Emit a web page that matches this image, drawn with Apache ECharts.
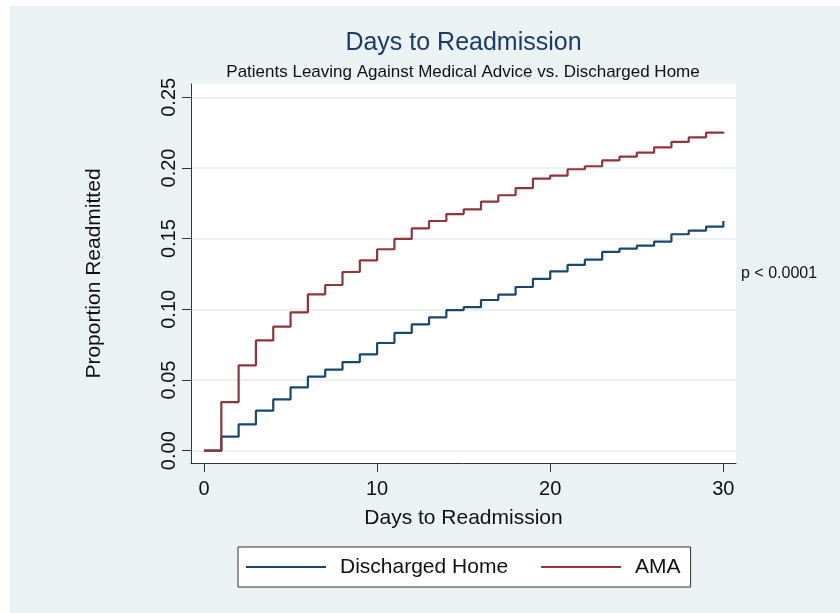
<!DOCTYPE html>
<html>
<head>
<meta charset="utf-8">
<script src="https://cdn.jsdelivr.net/npm/echarts@6/dist/echarts.min.js"></script>
<style>html,body{margin:0;padding:0;background:#fff}#c{width:840px;height:613px}</style>
</head>
<body>
<div id="c"></div>
<script>
const days = [0,1,2,3,4,5,6,7,8,9,10,11,12,13,14,15,16,17,18,19,20,21,22,23,24,25,26,27,28,29,30];
const dischargedHome = [0,0.0099,0.0186,0.0283,0.0363,0.0448,0.0524,0.0573,0.0627,0.0682,0.0762,0.0833,0.0894,0.0943,0.0995,0.1015,0.1066,0.1104,0.1158,0.1215,0.1269,0.1314,0.1351,0.1406,0.1429,0.1450,0.1479,0.1531,0.1557,0.1585,0.1625];
const ama = [0,0.0344,0.0604,0.0780,0.0877,0.0979,0.1106,0.1172,0.1264,0.1347,0.1425,0.1498,0.1573,0.1625,0.1674,0.1707,0.1762,0.1807,0.1858,0.1925,0.1946,0.1991,0.2012,0.2054,0.2080,0.2108,0.2146,0.2184,0.2217,0.2250,0.2257];
const xTicks = [0,10,20,30];
const yTicks = [0,0.05,0.10,0.15,0.20,0.25];
const seriesNames = ['Discharged Home','AMA'];

const FONT = '"Liberation Sans", Arial, Helvetica, sans-serif';
const chart = echarts.init(document.getElementById('c'), null, {renderer:'canvas'});
chart.setOption({
  animation:false,
  textStyle:{fontFamily:FONT},
  graphic:[
    {type:'rect', z:-10, shape:{x:10,y:6,width:840,height:613}, style:{fill:'#EAF2F3'}},
    {type:'text', x:463.5, y:43, style:{text:'Days to Readmission', font:'25px '+FONT, fill:'#1E3A68', textAlign:'center', textVerticalAlign:'middle'}},
    {type:'text', x:463, y:72, style:{text:'Patients Leaving Against Medical Advice vs. Discharged Home', font:'17px '+FONT, fill:'#111', textAlign:'center', textVerticalAlign:'middle'}},
    {type:'text', x:741, y:274, style:{text:'p < 0.0001', font:'16px '+FONT, fill:'#111', textAlign:'left', textVerticalAlign:'middle'}}
  ],
  grid:{left:191, right:104, top:84, bottom:150, show:true, backgroundColor:'#fff', borderWidth:0},
  legend:{
    data:seriesNames, left:238, top:547, orient:'horizontal',
    backgroundColor:'#fff', borderColor:'#333', borderWidth:1,
    icon:'rect', itemWidth:80, itemHeight:2, itemGap:33,
    padding:[8,10,8,8],
    textStyle:{fontSize:21, color:'#111', padding:[0,0,0,9], lineHeight:24}
  },
  xAxis:{
    type:'value', min:-0.751, max:30.73,
    name:'Days to Readmission', nameLocation:'middle', nameGap:45,
    nameTextStyle:{fontSize:21, color:'#111'},
    axisLine:{show:true, onZero:false, lineStyle:{color:'#333', width:1}},
    axisTick:{show:true, length:9, lineStyle:{color:'#333'}, customValues:xTicks},
    axisLabel:{fontSize:20, color:'#111', margin:16, customValues:xTicks},
    splitLine:{show:false}
  },
  yAxis:{
    type:'value', min:-0.0087, max:0.2594,
    name:'Proportion Readmitted', nameLocation:'middle', nameRotate:90, nameGap:86,
    nameTextStyle:{fontSize:21, color:'#111'},
    axisLine:{show:true, onZero:false, lineStyle:{color:'#333', width:1}},
    axisTick:{show:true, length:9, lineStyle:{color:'#333'}, customValues:yTicks},
    axisLabel:{fontSize:20, color:'#111', rotate:90, margin:12, customValues:yTicks, formatter:v=>v.toFixed(2)},
    splitLine:{show:true, lineStyle:{color:'#EAF2F3', width:2}}
  },
  series:[
    {name:seriesNames[0], type:'line', step:'end', symbol:'none', data:days.map((d,i)=>[d,dischargedHome[i]]), lineStyle:{color:'#1A476F', width:2.2}, itemStyle:{color:'#1A476F'}},
    {name:seriesNames[1], type:'line', step:'end', symbol:'none', data:days.map((d,i)=>[d,ama[i]]), lineStyle:{color:'#90353B', width:2.2}, itemStyle:{color:'#90353B'}}
  ]
});
</script>
</body>
</html>
